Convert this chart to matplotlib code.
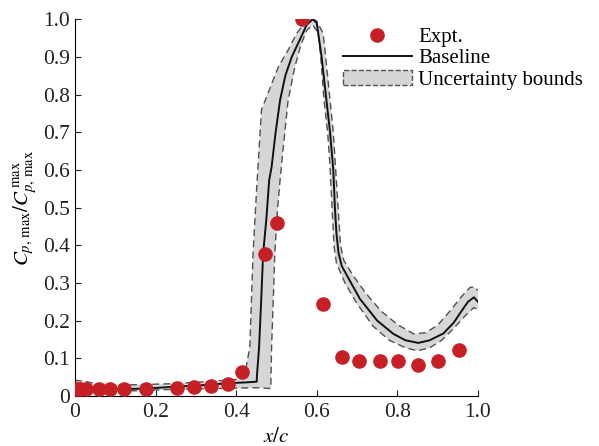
import numpy as np
import matplotlib
matplotlib.use("Agg")
import matplotlib.pyplot as plt
from matplotlib.patches import Patch
from matplotlib.lines import Line2D
from matplotlib.ticker import FuncFormatter, MultipleLocator

plt.rcParams['font.family'] = ['Liberation Serif', 'DejaVu Serif']
plt.rcParams['mathtext.fontset'] = 'stix'

# experimental points
expt_x = [0.004, 0.012, 0.028, 0.06, 0.087, 0.122, 0.176, 0.254, 0.296, 0.337, 0.38,
          0.415, 0.471, 0.502, 0.5625, 0.616, 0.662, 0.705, 0.758, 0.802, 0.852, 0.902, 0.953]
expt_y = [0.02, 0.018, 0.018, 0.02, 0.02, 0.02, 0.019, 0.021, 0.023, 0.027, 0.031,
          0.063, 0.378, 0.458, 1.0, 0.243, 0.104, 0.094, 0.093, 0.093, 0.082, 0.093, 0.122]

# baseline prediction
base_x = [0, 0.02, 0.05, 0.1, 0.18, 0.25, 0.32, 0.38, 0.42, 0.451, 0.452, 0.457, 0.462,
          0.467, 0.475, 0.482, 0.488, 0.498, 0.509, 0.522, 0.538, 0.56, 0.575, 0.59, 0.60,
          0.612, 0.624, 0.633, 0.641, 0.645, 0.649, 0.654, 0.662, 0.68, 0.707, 0.75, 0.79,
          0.82, 0.852, 0.88, 0.914, 0.94, 0.955, 0.975, 0.99, 1.0]
base_y = [0.034, 0.03, 0.02, 0.018, 0.02, 0.025, 0.029, 0.034, 0.036, 0.038, 0.06, 0.13, 0.25,
          0.378, 0.47, 0.573, 0.608, 0.7, 0.785, 0.85, 0.9, 0.95, 0.985, 1.0, 0.99,
          0.9, 0.785, 0.7, 0.6, 0.5, 0.43, 0.38, 0.345, 0.31, 0.258, 0.2, 0.165,
          0.148, 0.141, 0.148, 0.166, 0.195, 0.219, 0.25, 0.262, 0.25]

# uncertainty bounds
up_x = [0, 0.03, 0.06, 0.15, 0.25, 0.35, 0.41, 0.422, 0.434, 0.442, 0.452, 0.463, 0.485,
        0.505, 0.53, 0.55, 0.57, 0.585, 0.6, 0.616, 0.625, 0.633, 0.641, 0.647, 0.653,
        0.659, 0.667, 0.69, 0.72, 0.76, 0.8, 0.84, 0.87, 0.9, 0.93, 0.96, 0.98, 0.99, 1.0]
up_y = [0.042, 0.038, 0.03, 0.03, 0.033, 0.04, 0.045, 0.06, 0.13, 0.38, 0.57, 0.76, 0.82,
        0.874, 0.92, 0.962, 0.99, 1.003, 0.995, 0.962, 0.87, 0.785, 0.7, 0.6, 0.5,
        0.4, 0.36, 0.32, 0.275, 0.225, 0.19, 0.165, 0.168, 0.188, 0.225, 0.265, 0.288, 0.29, 0.28]
lo_x = [0, 0.03, 0.06, 0.15, 0.25, 0.35, 0.45, 0.486, 0.488, 0.492, 0.496, 0.503, 0.509,
        0.516, 0.529, 0.545, 0.56, 0.575, 0.59, 0.603, 0.61, 0.618, 0.627, 0.633, 0.638,
        0.643, 0.649, 0.67, 0.7, 0.74, 0.78, 0.82, 0.85, 0.88, 0.91, 0.94, 0.97, 0.99, 1.0]
lo_y = [0.022, 0.018, 0.013, 0.014, 0.018, 0.02, 0.022, 0.02, 0.13, 0.25, 0.38, 0.5, 0.573,
        0.65, 0.785, 0.87, 0.93, 0.97, 0.985, 0.965, 0.9, 0.785, 0.7, 0.608, 0.5,
        0.396, 0.352, 0.3, 0.245, 0.185, 0.148, 0.128, 0.12, 0.128, 0.148, 0.18, 0.215, 0.235, 0.228]

fig = plt.figure(figsize=(5.99, 4.46), dpi=100)
ax = fig.add_axes([0.125, 0.112, 0.673, 0.845])

band_color = '#d4d6d8'
edge_color = '#505050'
ax.fill(np.concatenate([up_x, lo_x[::-1]]), np.concatenate([up_y, lo_y[::-1]]),
        color=band_color, lw=0, zorder=1)
ax.plot(up_x, up_y, ls=(0, (5, 3)), color=edge_color, lw=1.0, zorder=2)
ax.plot(lo_x, lo_y, ls=(0, (5, 3)), color=edge_color, lw=1.0, zorder=2)
ax.plot(base_x, base_y, color='#111111', lw=1.4, zorder=3)
ax.plot(expt_x, expt_y, 'o', color='#c62026', ms=9.5, mec='#c62026', zorder=4)

ax.set_xlim(0, 1.0)
ax.set_ylim(0, 1.0)
ax.xaxis.set_major_locator(MultipleLocator(0.2))
ax.yaxis.set_major_locator(MultipleLocator(0.1))
fmt = FuncFormatter(lambda v, p: '0' if abs(v) < 1e-9 else '%.1f' % v)
ax.xaxis.set_major_formatter(fmt)
ax.yaxis.set_major_formatter(fmt)
ax.tick_params(direction='in', length=4, labelsize=15.5, colors='#222222')
ax.tick_params(axis='x', pad=5)
ax.spines['top'].set_visible(False)
ax.spines['right'].set_visible(False)

ax.set_xlabel('$x/c$', fontsize=15, labelpad=4)
ax.set_ylabel(r'$C_{p,\,\mathrm{max}}/C_{p,\,\mathrm{max}}^{\,\mathrm{max}}$', fontsize=15, labelpad=3)

handles = [
    Line2D([], [], ls='none', marker='o', color='#c62026', ms=9.5),
    Line2D([], [], color='#111111', lw=1.4),
    Patch(facecolor=band_color, edgecolor=edge_color, linestyle='--', lw=1.0),
]
labels = ['Expt.', 'Baseline', 'Uncertainty bounds']
ax.legend(handles, labels, loc='upper left', bbox_to_anchor=(0.665, 0.978), frameon=False,
          fontsize=15, handlelength=3.3, handletextpad=0.3, labelspacing=0.08,
          borderaxespad=0, borderpad=0)

fig.savefig('out.png', dpi=100)
